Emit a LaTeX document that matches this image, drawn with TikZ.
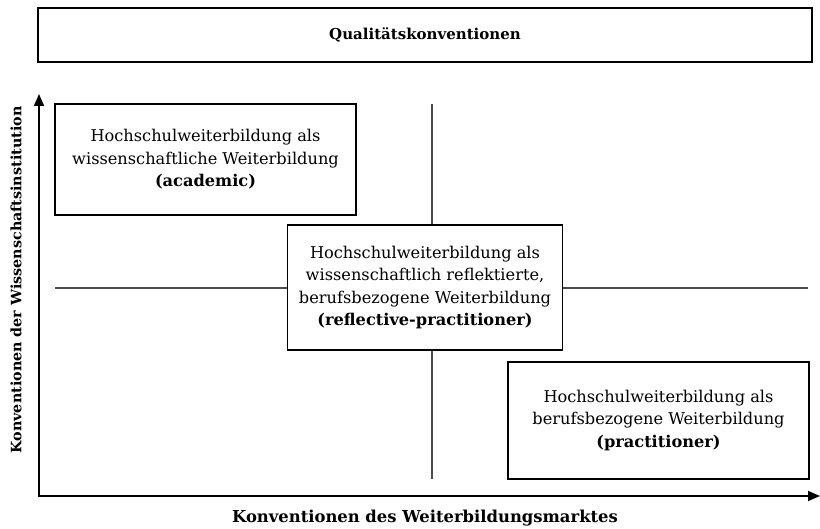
\documentclass[tikz,border=0pt]{standalone}
\usepackage{fontspec}
\setmainfont{DejaVu Serif}
\usetikzlibrary{arrows.meta}
\tikzset{
  box/.style={draw=black, line width=1.7pt, fill=white, align=center, inner sep=0pt,
    font=\fontsize{16.2}{22.5}\selectfont},
  cross/.style={draw=black!70, line width=1.3pt},
  axis/.style={draw=black, line width=1.8pt, -{Triangle[length=12pt,width=10pt]}},
  lbl/.style={font=\fontsize{16.4}{18}\selectfont\bfseries, inner sep=0pt},
}
\begin{document}
\begin{tikzpicture}[x=1pt,y=-1pt]
\useasboundingbox (0,0) rectangle (820,529);
% crosshair
\coordinate (vt) at (432,104);
\coordinate (vb) at (432,479);
\coordinate (hl) at (55,288);
\coordinate (hr) at (808,288);
\draw[cross] (vt) -- (vb);
\draw[cross] (hl) -- (hr);
% title
\node[box, minimum width=774pt, minimum height=54pt] (title) at (425,35)
  {\fontsize{15}{18}\selectfont\bfseries Qualitätskonventionen};
% boxes
\node[box, minimum width=301pt, minimum height=111pt] (acad) at (205.5,159.5)
  {Hochschulweiterbildung als\\wissenschaftliche Weiterbildung\\\bfseries (academic)};
\node[box, minimum width=275pt, minimum height=125pt] (refl) at (425,287.5)
  {Hochschulweiterbildung als\\wissenschaftlich reflektierte,\\berufsbezogene Weiterbildung\\\bfseries (reflective-practitioner)};
\node[box, minimum width=301pt, minimum height=117pt] (prac) at (658.5,420.5)
  {Hochschulweiterbildung als\\berufsbezogene Weiterbildung\\\bfseries (practitioner)};
% axes
\coordinate (o) at (39,496);
\coordinate (ytip) at (39,94);
\coordinate (xtip) at (820,496);
\draw[axis] ([yshift=-0.9pt]o) -- (ytip);
\draw[axis] ([xshift=-0.9pt]o) -- (xtip);
\node[lbl] (xl) at (425,518) {Konventionen des Weiterbildungsmarktes};
\node[lbl, rotate=90, font=\fontsize{14.3}{18}\selectfont\bfseries] (yl) at (16,280) {Konventionen der Wissenschaftsinstitution};
\end{tikzpicture}
\end{document}
